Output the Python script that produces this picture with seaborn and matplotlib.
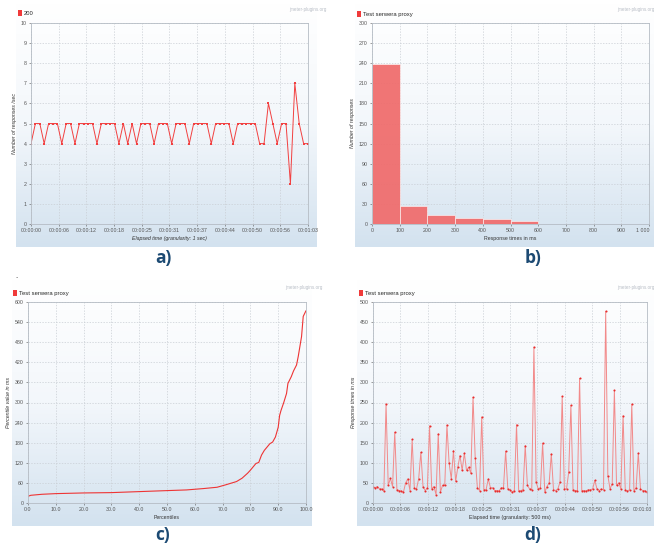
import numpy as np
import pandas as pd
import matplotlib
matplotlib.use('Agg')
import matplotlib.pyplot as plt
import matplotlib.transforms as mtransforms
import seaborn as sns
from matplotlib.colors import LinearSegmentedColormap
from matplotlib.patches import Patch

# ---------------- data ----------------
# a) responses per second (granularity 1 s)
a_values = [4, 5, 5, 4, 5, 5, 5, 4, 5, 5, 4, 5, 5, 5, 5, 4, 5, 5, 5, 5,
            4, 5, 4, 5, 4, 5, 5, 5, 4, 5, 5, 5, 4, 5, 5, 5, 4, 5, 5, 5,
            5, 4, 5, 5, 5, 5, 4, 5, 5, 5, 5, 5, 4, 4, 6, 5, 4, 5, 5, 2,
            7, 5, 4, 4]
a_seconds = list(range(len(a_values)))

time_tick_labels = ["00:00:00", "00:00:06", "00:00:12", "00:00:18", "00:00:25",
                    "00:00:31", "00:00:37", "00:00:44", "00:00:50", "00:00:56",
                    "00:01:03"]

# b) response time distribution
b_bin_left = [0, 100, 200, 300, 400, 500]
b_counts = [239, 27, 14, 9, 8, 4]
b_tick_labels = ["0", "100", "200", "300", "400", "500", "600", "700", "800", "900", "1 000"]

# c) response time percentiles
c_pct = [0, 1, 5, 10, 20, 30, 40, 50, 57, 63, 68, 71, 75, 77, 79, 80, 81, 82,
         83, 84, 85, 86, 87, 88, 89, 90, 90.5, 91, 92, 93, 93.5, 94.7, 95.5,
         96.6, 97.2, 97.8, 98.4, 99, 100]
c_ms = [20, 23, 26, 28, 30, 31, 34, 37, 39, 43, 47, 54, 64, 74, 89, 98, 108, 118,
        121, 143, 157, 167, 177, 182, 197, 226, 261, 276, 300, 327, 357, 377, 394,
        412, 437, 467, 497, 557, 574]
c_tick_labels = ["0.0", "10.0", "20.0", "30.0", "40.0", "50.0", "60.0", "70.0",
                 "80.0", "90.0", "100.0"]

# d) response times over time (granularity 500 ms)
d_values = [40, 38, 41, 35, 35, 30, 246, 44, 61, 41, 176, 33, 31, 30, 27, 50, 60, 31,
            158, 37, 35, 60, 126, 41, 31, 37, 192, 35, 41, 21, 172, 27, 44, 44, 194,
            99, 60, 130, 54, 89, 118, 81, 124, 81, 89, 74, 263, 112, 38, 31, 214, 33,
            33, 60, 38, 38, 31, 31, 30, 38, 38, 129, 35, 33, 27, 31, 195, 29, 31, 33,
            143, 44, 35, 33, 388, 52, 35, 38, 149, 27, 41, 50, 122, 33, 31, 35, 52,
            265, 35, 35, 77, 243, 33, 31, 31, 310, 31, 31, 30, 33, 33, 35, 56, 35, 31,
            35, 33, 477, 68, 35, 48, 280, 44, 50, 35, 217, 33, 30, 33, 246, 30, 38,
            124, 35, 31, 31, 27]
d_seconds = [i * 0.5 for i in range(len(d_values))]

series_name = "Test serwera proxy"

# ---------------- style ----------------
sns.set_theme(style='white')
plt.rcParams['font.family'] = ['Liberation Sans Narrow', 'Liberation Sans', 'DejaVu Sans']

W, H = 654, 545
fig = plt.figure(figsize=(W / 100, H / 100), dpi=100)

bg_cmap = LinearSegmentedColormap.from_list('bg', ['#ffffff', '#f3f7fb', '#d3e2ef'])
grad = np.linspace(0, 1, 256).reshape(-1, 1)

TICK_FS = 3.8
LAB_FS = 3.8
TICK_C = '#555555'
GRID_C = '#c9ced4'


def panel_bg(x0, y0, x1, y1):
    ax = fig.add_axes([x0 / W, 1 - y1 / H, (x1 - x0) / W, (y1 - y0) / H], zorder=0)
    ax.imshow(grad, aspect='auto', cmap=bg_cmap, extent=[0, 1, 0, 1])
    ax.axis('off')


def plot_axes(x0, y0, x1, y1):
    ax = fig.add_axes([x0 / W, 1 - y1 / H, (x1 - x0) / W, (y1 - y0) / H], zorder=1)
    ax.set_facecolor('none')
    for s in ax.spines.values():
        s.set_color('#b5bcc4')
        s.set_linewidth(0.6)
    ax.grid(True, color=GRID_C, linestyle=(0, (2, 2)), linewidth=0.5)
    ax.tick_params(axis='both', labelsize=TICK_FS, colors=TICK_C, length=1.5,
                   width=0.4, pad=1.5, direction='out', bottom=True, left=True)
    return ax


def legend(ax, label, px, py):
    ax.legend(handles=[Patch(facecolor='#f03a3a', edgecolor='none', label=label)],
              loc='center left', bbox_to_anchor=(px / W, 1 - py / H),
              bbox_transform=fig.transFigure, frameon=False, fontsize=4.2,
              handlelength=0.7, handleheight=1.1, handletextpad=0.3, borderpad=0,
              borderaxespad=0)


def watermark(px, py):
    fig.text(px / W, 1 - py / H, "jmeter-plugins.org", fontsize=3.3, color='#b8bec6',
             ha='left', va='center')


def panel_label(txt, px, py):
    fig.text(px / W, 1 - py / H, txt, fontsize=12.5, color='#1c4a73', ha='center',
             va='center', family=['Open Sans', 'DejaVu Sans'], fontweight='bold')


time_ticks = np.linspace(0, 63, len(time_tick_labels))

# ---------------- panel a ----------------
panel_bg(16, 4, 317, 247)
axa = plot_axes(31, 23, 308, 224)
dfa = pd.DataFrame({'t': a_seconds, 'n': a_values})
sns.lineplot(data=dfa, x='t', y='n', ax=axa, color='#f24040', linewidth=0.7,
             marker='s', markersize=1.6, markeredgewidth=0, legend=False)
axa.set_xlim(0, 63)
axa.set_ylim(0, 10)
axa.set_yticks(range(0, 11))
axa.set_xticks(time_ticks)
axa.set_xticklabels(time_tick_labels)
axa.set_xlabel("Elapsed time (granularity: 1 sec)", fontsize=LAB_FS, color='#333',
               style='italic', labelpad=2)
axa.set_ylabel("Number of responses /sec", fontsize=LAB_FS, color='#333',
               style='italic', labelpad=3)
legend(axa, "200", 18, 13)
watermark(289, 9)
panel_label("a)", 163, 258)

# ---------------- panel b ----------------
panel_bg(355, 4, 654, 247)
axb = plot_axes(372, 23, 649, 224)
dfb = pd.DataFrame({'ms': [v + 50 for v in b_bin_left], 'count': b_counts})
sns.histplot(data=dfb, x='ms', weights='count', bins=b_bin_left + [600], ax=axb,
             color='#f06a6a', alpha=0.92, edgecolor='#ffffff', linewidth=0.4)
axb.set_xlim(0, 1000)
axb.set_ylim(0, 300)
axb.set_yticks(range(0, 301, 30))
axb.set_xticks(range(0, 1001, 100))
axb.set_xticklabels(b_tick_labels)
axb.get_xticklabels()[-1].set_horizontalalignment('right')
axb.set_xlabel("Response times in ms", fontsize=LAB_FS, color='#333', labelpad=2)
axb.set_ylabel("Number of responses", fontsize=LAB_FS, color='#333',
               style='italic', labelpad=3)
legend(axb, series_name, 357, 14)
watermark(617, 10)
panel_label("b)", 533, 258)

# ---------------- panel c ----------------
panel_bg(12, 280, 312, 526)
axc = plot_axes(28, 302, 306, 503)
dfc = pd.DataFrame({'p': c_pct, 'v': c_ms})
sns.lineplot(data=dfc, x='p', y='v', ax=axc, color='#ee3434', linewidth=0.8,
             legend=False)
axc.set_xlim(0, 100)
axc.set_ylim(0, 600)
axc.set_yticks(range(0, 601, 60))
axc.set_xticks(range(0, 101, 10))
axc.set_xticklabels(c_tick_labels)
axc.set_xlabel("Percentiles", fontsize=LAB_FS, color='#333', labelpad=2)
axc.set_ylabel("Percentile value in ms", fontsize=LAB_FS, color='#333',
               style='italic', labelpad=3)
legend(axc, series_name, 13, 293)
watermark(285, 288)
panel_label("c)", 163, 535)
fig.text(17 / W, 1 - 280 / H, "\u00b4", fontsize=6, color='#333', ha='center', va='center')

# ---------------- panel d ----------------
panel_bg(357, 280, 654, 526)
axd = plot_axes(373, 302, 647, 503)
dfd = pd.DataFrame({'t': d_seconds, 'ms': d_values})
sns.lineplot(data=dfd, x='t', y='ms', ax=axd, color='#f28a8a', linewidth=0.7,
             marker='o', markersize=1.5, markeredgewidth=0, markerfacecolor='#e82c2c',
             legend=False)
axd.set_xlim(0, 63)
axd.set_ylim(0, 500)
axd.set_yticks(range(0, 501, 50))
axd.set_xticks(time_ticks)
axd.set_xticklabels(time_tick_labels)
last = axd.get_xticklabels()[-1]
last.set_fontsize(3.5)
last.set_transform(last.get_transform() +
                   mtransforms.ScaledTranslation(-0.05, 0, fig.dpi_scale_trans))
axd.set_xlabel("Elapsed time (granularity: 500 ms)", fontsize=LAB_FS, color='#333',
               labelpad=2)
axd.set_ylabel("Response times in ms", fontsize=LAB_FS, color='#333',
               style='italic', labelpad=3)
legend(axd, series_name, 359, 293)
watermark(617, 288)
panel_label("d)", 533, 535)

fig.savefig('out.png', dpi=100)
